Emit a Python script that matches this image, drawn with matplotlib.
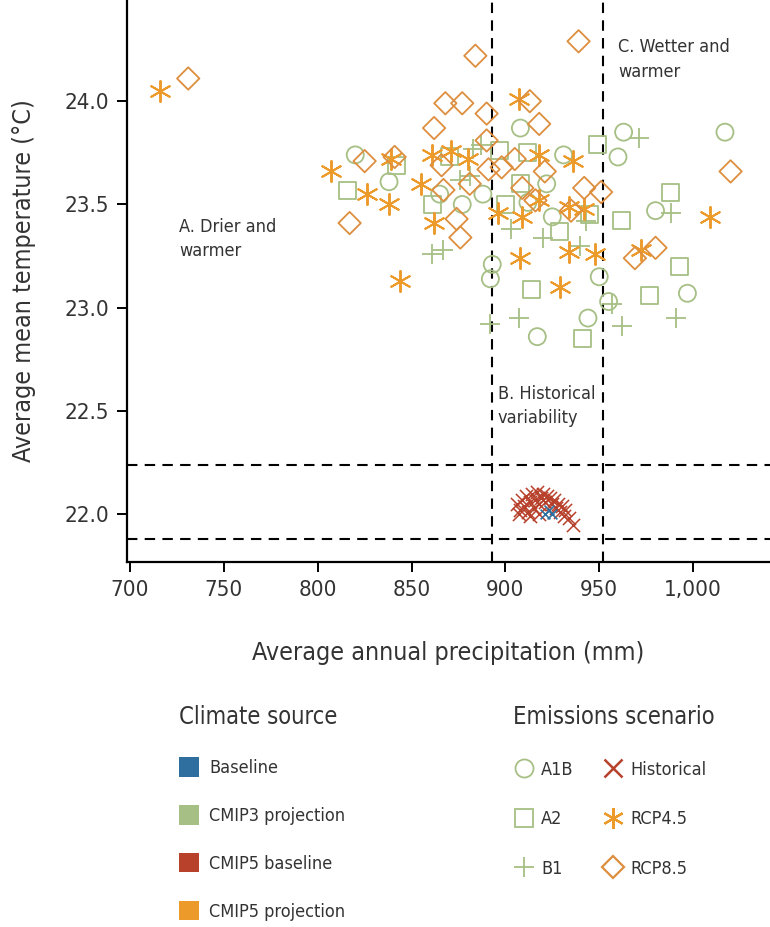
import numpy as np
import matplotlib
matplotlib.use("Agg")
import matplotlib.pyplot as plt
from matplotlib.lines import Line2D
from matplotlib.patches import Patch
from matplotlib.ticker import FuncFormatter

plt.rcParams['font.family'] = ['DejaVu Sans']
plt.rcParams['font.stretch'] = 'condensed'

# ------------------- data ------------------- #
# CMIP3 projections (green)
a1b_x = [820, 838, 865, 877, 888, 908, 893, 892, 922, 931, 963, 960, 950, 955,
         980, 997, 1017, 917, 944, 912, 925]
a1b_y = [23.74, 23.61, 23.55, 23.50, 23.55, 23.87, 23.21, 23.14, 23.60, 23.74, 23.85,
         23.73, 23.15, 23.03, 23.47, 23.07, 23.85, 22.86, 22.95, 23.51, 23.44]

a2_x = [816, 842, 861, 897, 908, 900, 914, 929, 941, 949, 945, 962, 988, 993, 977,
        870, 912]
a2_y = [23.57, 23.69, 23.50, 23.76, 23.60, 23.50, 23.09, 23.37, 22.85, 23.79, 23.45,
        23.42, 23.56, 23.20, 23.06, 23.73, 23.75]

b1_x = [887, 883, 861, 867, 881, 892, 907, 920, 943, 971, 988, 962, 991, 903, 940,
        957, 876]
b1_y = [23.79, 23.77, 23.26, 23.28, 23.64, 22.92, 22.95, 23.34, 23.42, 23.82, 23.46,
        22.91, 22.95, 23.38, 23.30, 23.02, 23.62]

# CMIP5 projections (orange)
rcp45_x = [716, 807, 826, 838, 839, 844, 855, 861, 862, 871, 880, 907, 896, 909,
           908, 918, 918, 929, 934, 936, 942, 948, 972, 1009, 934]
rcp45_y = [24.05, 23.66, 23.55, 23.50, 23.72, 23.13, 23.60, 23.74, 23.41, 23.76,
           23.72, 24.01, 23.46, 23.44, 23.24, 23.74, 23.52, 23.10, 23.27, 23.71,
           23.48, 23.26, 23.28, 23.44, 23.49]

rcp85_x = [731, 884, 939, 868, 877, 890, 862, 913, 918, 825, 841, 866, 817, 874,
           876, 891, 898, 905, 921, 909, 916, 942, 951, 935, 969, 980, 1020, 867,
           881, 890]
rcp85_y = [24.11, 24.22, 24.29, 23.99, 23.99, 23.94, 23.87, 24.00, 23.89, 23.71,
           23.73, 23.69, 23.41, 23.43, 23.34, 23.67, 23.68, 23.72, 23.66, 23.58,
           23.52, 23.58, 23.56, 23.47, 23.24, 23.29, 23.66, 23.57, 23.60, 23.81]

# CMIP5 baseline (red) and observed baseline (blue)
hist_x = [906, 908, 909, 910, 911, 912, 913, 914, 915, 916, 917, 918, 919, 920,
          921, 922, 924, 925, 926, 927, 928, 929, 930, 931, 932, 934, 936, 907,
          913, 918]
hist_y = [22.05, 22.02, 22.07, 22.04, 22.09, 22.01, 22.06, 22.10, 22.03, 22.07,
          22.11, 22.05, 22.08, 22.10, 22.06, 22.09, 22.08, 22.05, 22.07, 22.03,
          22.05, 22.01, 22.04, 21.99, 22.02, 21.98, 21.95, 22.00, 21.99, 22.00]

base_x = [921, 923, 925]
base_y = [22.00, 22.02, 22.00]

# region boundaries (historical variability box)
precip_bounds = [893, 952]
temp_bounds = [21.88, 22.24]

x_ticks = [700, 750, 800, 850, 900, 950, 1000]
y_ticks = [22.0, 22.5, 23.0, 23.5, 24.0]

# colours
BLUE = '#2f6f9f'
GREEN = '#a6bf84'
RED = '#b8412c'
ORANGE = '#ec9a2a'
DIAMOND = '#dd8e3e'
TEXT = '#333333'

fig = plt.figure(figsize=(7.7, 9.27), dpi=100)
ax = fig.add_axes([0.165, 0.394, 0.835, 0.606])

# dashed boundaries
for xv in precip_bounds:
    ax.axvline(xv, color='black', lw=1.5, ls=(0, (5, 3.5)), zorder=1)
for yv in temp_bounds:
    ax.axhline(yv, color='black', lw=1.5, ls=(0, (5, 3.5)), zorder=1)

ax.scatter(a1b_x, a1b_y, s=150, marker='o', facecolors='none', edgecolors=GREEN,
           linewidths=1.3, zorder=2)
ax.scatter(a2_x, a2_y, s=150, marker='s', facecolors='none', edgecolors=GREEN,
           linewidths=1.3, zorder=2)
ax.scatter(b1_x, b1_y, s=220, marker='+', color=GREEN, linewidths=1.3, zorder=2)
ax.scatter(rcp45_x, rcp45_y, s=230, marker=(6, 2, 0), color=ORANGE, linewidths=1.4,
           zorder=3)
ax.scatter(rcp85_x, rcp85_y, s=130, marker='D', facecolors='none', edgecolors=DIAMOND,
           linewidths=1.3, zorder=3)
ax.scatter(hist_x, hist_y, s=90, marker='x', color=RED, linewidths=1.1, zorder=3)
ax.scatter(base_x, base_y, s=50, marker='x', color=BLUE, linewidths=1.2, zorder=4)

# region labels
ax.text(726, 23.435, 'A. Drier and\nwarmer', fontsize=13, color=TEXT, va='top',
        linespacing=1.45)
ax.text(896, 22.625, 'B. Historical\nvariability', fontsize=13, color=TEXT, va='top',
        linespacing=1.45)
ax.text(960, 24.305, 'C. Wetter and\nwarmer', fontsize=13, color=TEXT, va='top',
        linespacing=1.45)

ax.set_xlim(698.4, 1041)
ax.set_ylim(21.77, 24.49)
ax.set_xticks(x_ticks)
ax.set_yticks(y_ticks)
ax.xaxis.set_major_formatter(FuncFormatter(lambda v, p: f'{int(v):,}'))
ax.yaxis.set_major_formatter(FuncFormatter(lambda v, p: f'{v:.1f}'))
ax.tick_params(direction='out', length=7, width=1.4, labelsize=16, colors='black',
               labelcolor=TEXT, pad=6)
for side in ['top', 'right']:
    ax.spines[side].set_visible(False)
for side in ['left', 'bottom']:
    ax.spines[side].set_linewidth(1.6)

ax.set_xlabel('Average annual precipitation (mm)', fontsize=18, color=TEXT, labelpad=30)
ax.set_ylabel('Average mean temperature (\u00b0C)', fontsize=18, color=TEXT, labelpad=20)

# legends
src_handles = [Patch(facecolor=BLUE, edgecolor='none'),
               Patch(facecolor=GREEN, edgecolor='none'),
               Patch(facecolor=RED, edgecolor='none'),
               Patch(facecolor=ORANGE, edgecolor='none')]
src_labels = ['Baseline', 'CMIP3 projection', 'CMIP5 baseline', 'CMIP5 projection']
leg1 = fig.legend(src_handles, src_labels, title='Climate source', loc='upper left',
                  bbox_to_anchor=(0.212, 0.257), frameon=False, fontsize=13,
                  title_fontsize=17, alignment='left', labelspacing=1.55,
                  handlelength=1.1, handleheight=1.3, handletextpad=0.55)

emi_handles = [
    Line2D([], [], ls='none', marker='o', ms=13, mfc='none', mec=GREEN, mew=1.3),
    Line2D([], [], ls='none', marker='s', ms=13, mfc='none', mec=GREEN, mew=1.3),
    Line2D([], [], ls='none', marker='+', ms=15, color=GREEN, mew=1.3),
    Line2D([], [], ls='none', marker='x', ms=13, color=RED, mew=1.8),
    Line2D([], [], ls='none', marker=(6, 2, 0), ms=15, color=ORANGE, mew=1.6),
    Line2D([], [], ls='none', marker='D', ms=11, mfc='none', mec=DIAMOND, mew=1.6),
]
emi_labels = ['A1B', 'A2', 'B1', 'Historical', 'RCP4.5', 'RCP8.5']
leg2 = fig.legend(emi_handles, emi_labels, title='Emissions scenario', ncol=2,
                  loc='upper left', bbox_to_anchor=(0.645, 0.257), frameon=False,
                  fontsize=13, title_fontsize=17, alignment='left', labelspacing=1.75,
                  handlelength=1.2, handletextpad=0.35, columnspacing=1.6)
for leg in (leg1, leg2):
    leg.get_title().set_color(TEXT)
    for t in leg.get_texts():
        t.set_color(TEXT)

fig.savefig('out.png', dpi=100)
